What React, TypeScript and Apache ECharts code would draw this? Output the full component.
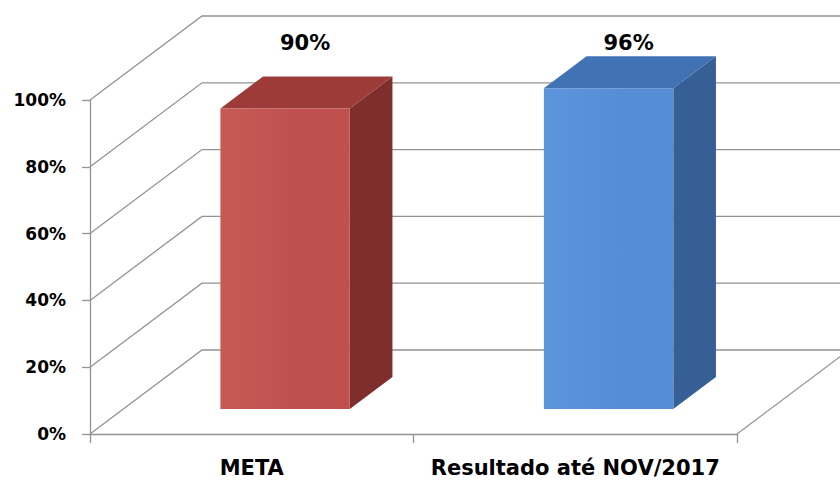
import React, { useEffect, useRef } from "react";
import * as echarts from "echarts";

const categories = ["META", "Resultado até NOV/2017"];
const values = [90, 96];
const yTicks = [0, 20, 40, 60, 80, 100];

const FRONT = ["#C0504D", "#558ED5"];
const FRONT_LIGHT = ["#C85A56", "#5C95DB"];
const TOP = ["#9C3B38", "#4172B4"];
const SIDE = ["#7E2F2D", "#365F96"];

const DEPTH_DX = 112;
const DEPTH_DY = -84;
const BAR_OFF = 25 / 84;
const BAR_DEPTH = 32 / 84;
const BAR_W = 0.4;
const GRID_COLOR = "#939393";

export default function App() {
  const ref = useRef<HTMLDivElement>(null);
  useEffect(() => {
    if (!ref.current) return;
    const chart = echarts.init(ref.current, undefined, { renderer: "svg" });
    const maxV = Math.max(...values);
    const option: any = {
      animation: false,
      backgroundColor: "#ffffff",
      grid: { left: 90, top: 100, width: 647, height: 334 },
      xAxis: {
        type: "category",
        data: categories,
        axisLine: { lineStyle: { color: GRID_COLOR, width: 1.3 } },
        axisTick: { show: true, length: 9, lineStyle: { color: GRID_COLOR, width: 1.3 } },
        axisLabel: {
          interval: 0,
          margin: 23,
          color: "#000",
          fontFamily: "DejaVu Sans",
          fontWeight: "bold",
          fontSize: 21,
        },
        splitLine: { show: false },
      },
      yAxis: {
        type: "value",
        min: 0,
        max: 100,
        interval: 20,
        axisLine: { show: true, lineStyle: { color: GRID_COLOR, width: 1.3 } },
        axisTick: { show: true, length: 8, lineStyle: { color: GRID_COLOR, width: 1.3 } },
        axisLabel: {
          formatter: "{value}%",
          margin: 24,
          color: "#000",
          fontFamily: "DejaVu Sans",
          fontWeight: "bold",
          fontSize: 17,
        },
        splitLine: { show: false },
      },
      series: [
        {
          type: "custom",
          silent: true,
          clip: false,
          z: 1,
          data: yTicks.map((t) => [0, t]),
          renderItem: (params: any, api: any) => {
            const v = api.value(1);
            const band = api.size([1, 0])[0];
            const p = api.coord([0, v]);
            const left = p[0] - band / 2;
            const y = p[1];
            const right = left + band * categories.length;
            const children: any[] = [
              {
                type: "polyline",
                shape: {
                  points: [
                    [left, y],
                    [left + DEPTH_DX, y + DEPTH_DY],
                    [right + DEPTH_DX, y + DEPTH_DY],
                  ],
                },
                style: { stroke: GRID_COLOR, lineWidth: 1.3, fill: "none" },
              },
            ];
            if (v === 0) {
              children.push({
                type: "line",
                shape: { x1: right, y1: y, x2: right + DEPTH_DX, y2: y + DEPTH_DY },
                style: { stroke: GRID_COLOR, lineWidth: 1.3 },
              });
            }
            return { type: "group", children };
          },
        },
        {
          type: "custom",
          silent: true,
          clip: false,
          z: 2,
          data: values.map((v, i) => [i, v]),
          renderItem: (params: any, api: any) => {
            const i = api.value(0);
            const v = api.value(1);
            const band = api.size([1, 0])[0];
            const base = api.coord([i, 0]);
            const top = api.coord([i, v]);
            const ox = DEPTH_DX * BAR_OFF;
            const oy = DEPTH_DY * BAR_OFF;
            const dx = DEPTH_DX * BAR_DEPTH;
            const dy = DEPTH_DY * BAR_DEPTH;
            const w = band * BAR_W;
            const x0 = base[0] - w / 2 + ox;
            const x1 = base[0] + w / 2 + ox;
            const yb = base[1] + oy;
            const yt = top[1] + oy;
            const topLvl = api.coord([i, maxV])[1] + oy + dy;
            return {
              type: "group",
              children: [
                {
                  type: "polygon",
                  shape: { points: [[x1, yb], [x1 + dx, yb + dy], [x1 + dx, yt + dy], [x1, yt]] },
                  style: { fill: SIDE[i] },
                },
                {
                  type: "polygon",
                  shape: { points: [[x0, yt], [x1, yt], [x1 + dx, yt + dy], [x0 + dx, yt + dy]] },
                  style: { fill: TOP[i] },
                },
                {
                  type: "rect",
                  shape: { x: x0, y: yt, width: x1 - x0, height: yb - yt },
                  style: {
                    fill: new echarts.graphic.LinearGradient(0, 0, 1, 0, [
                      { offset: 0, color: FRONT_LIGHT[i] },
                      { offset: 0.6, color: FRONT[i] },
                      { offset: 1, color: FRONT[i] },
                    ]),
                  },
                },
                {
                  type: "text",
                  style: {
                    text: v + "%",
                    x: (x0 + x1) / 2 + 20,
                    y: topLvl - 13,
                    align: "center",
                    verticalAlign: "middle",
                    fill: "#000",
                    font: "bold 21px 'DejaVu Sans'",
                  },
                },
              ],
            };
          },
        },
      ],
    };
    chart.setOption(option);
    return () => chart.dispose();
  }, []);
  return (
    <div
      ref={ref}
      style={{ position: "fixed", left: 0, top: 0, width: 840, height: 484 }}
    />
  );
}
